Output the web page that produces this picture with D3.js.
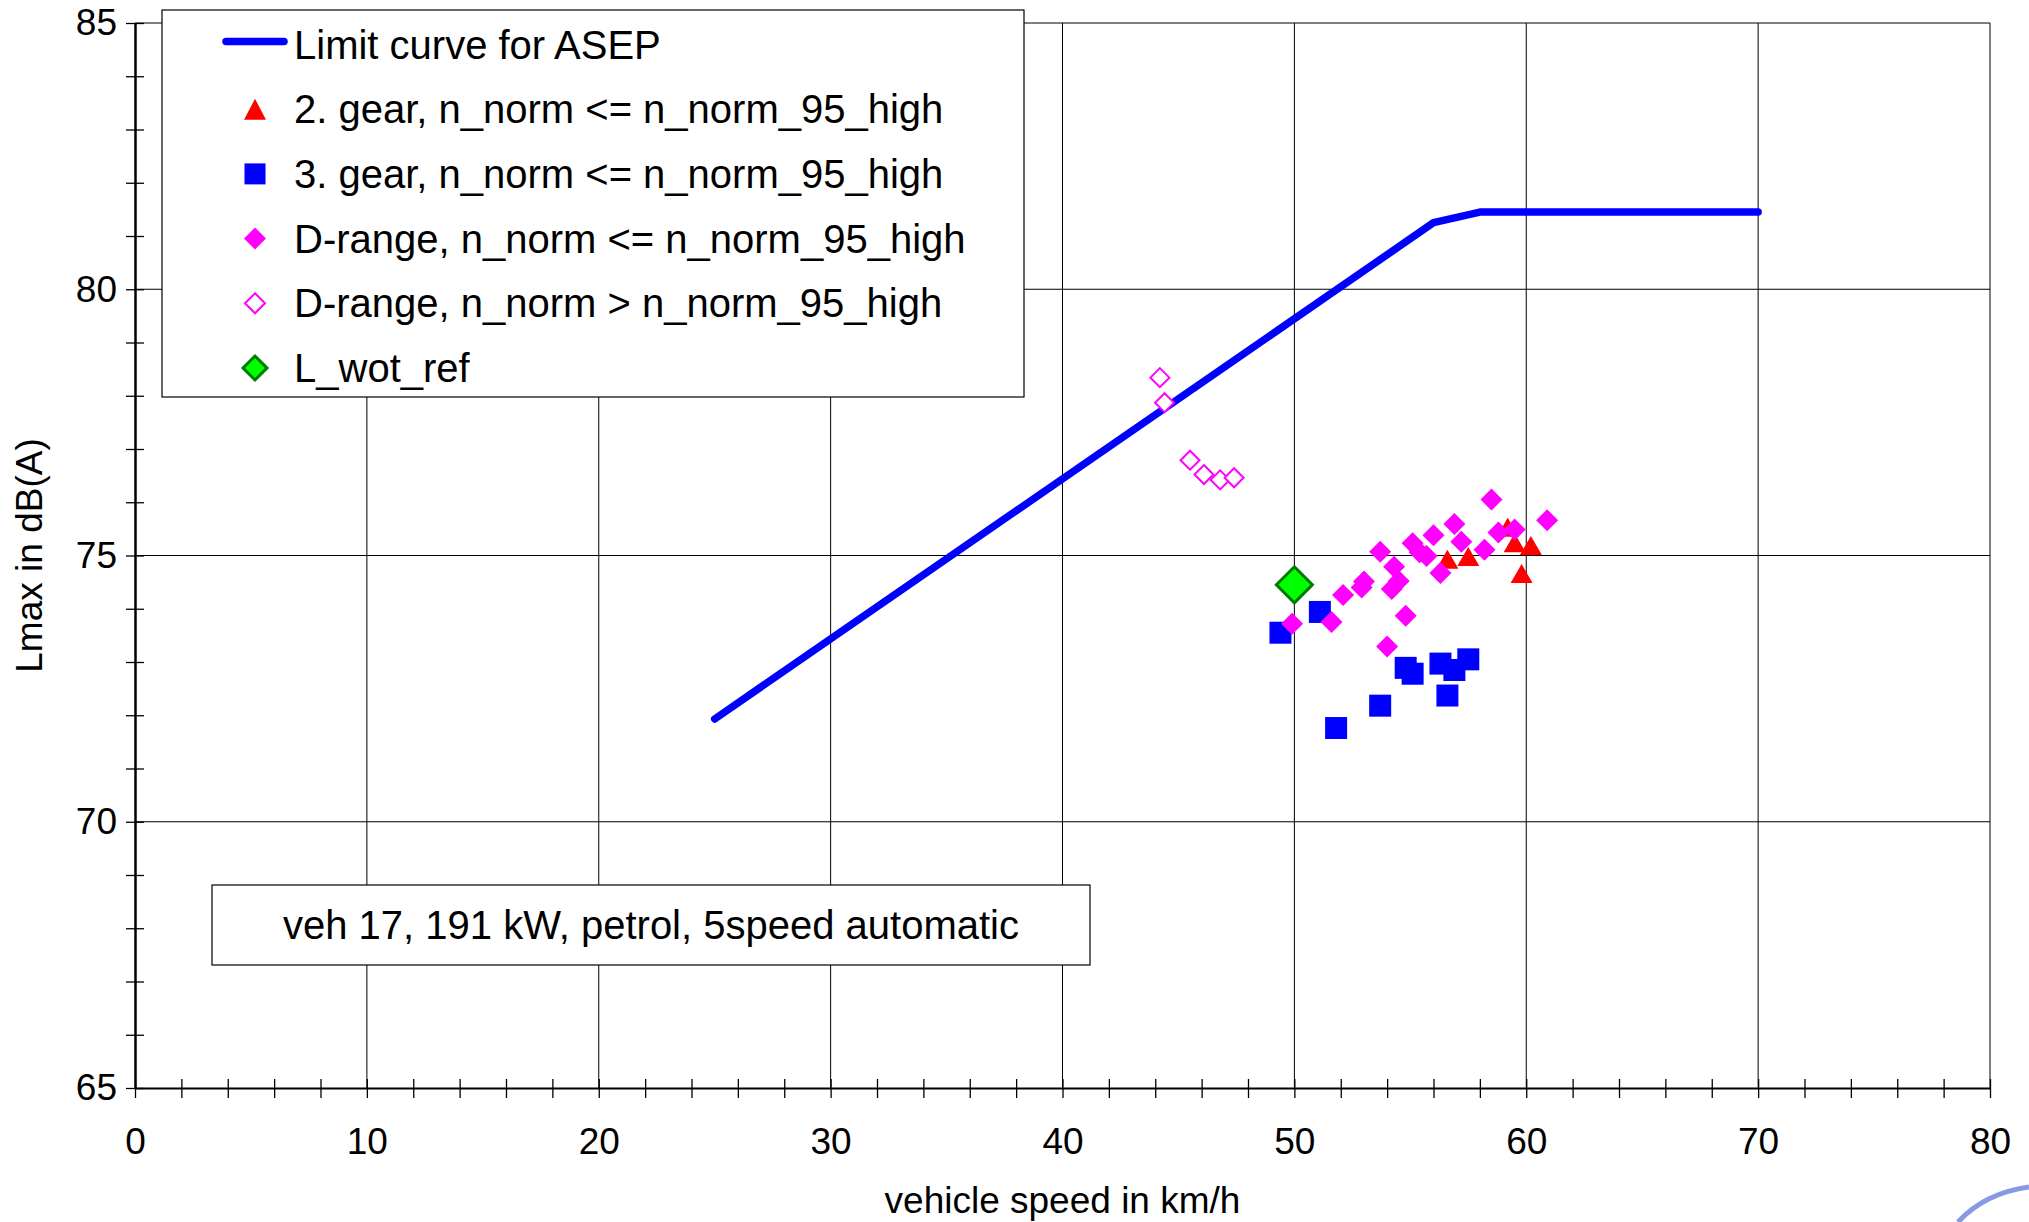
<!DOCTYPE html>
<html>
<head>
<meta charset="utf-8">
<script src="https://cdn.jsdelivr.net/npm/d3@7"></script>
<style>
    body { margin: 0; background: #fff; }
    svg { display: block; font-family: "Liberation Sans", Arial, sans-serif; }
</style>
</head>
<body>
<svg class="asepChart"></svg>
<script>
// limit curve
const limitSpeed = [25, 56, 58, 70];
const limitLevel = [71.93, 81.25, 81.45, 81.45];

// 2. gear, n_norm <= n_norm_95_high
const gear2Speed = [56.6, 57.5, 59.2, 59.5, 60.2, 59.8];
const gear2Level = [74.93, 74.98, 75.53, 75.24, 75.19, 74.66];

// 3. gear, n_norm <= n_norm_95_high
const gear3Speed = [49.4, 51.1, 51.8, 53.7, 54.8, 55.1, 56.3, 56.9, 57.5, 56.6];
const gear3Level = [73.55, 73.94, 71.76, 72.18, 72.89, 72.78, 72.97, 72.85, 73.05, 72.37];

// D-range, n_norm <= n_norm_95_high
const dRangeSpeed = [58.5, 60.9, 56.9, 56.0, 55.1, 57.2, 58.8, 59.5, 58.2, 53.7, 55.4, 55.7,
    54.3, 56.3, 54.5, 54.2, 53.0, 52.9, 52.1, 51.6, 49.9, 54.8, 54.0];
const dRangeLevel = [76.05, 75.66, 75.59, 75.38, 75.23, 75.26, 75.43, 75.49, 75.11, 75.07, 75.06, 74.99,
    74.79, 74.67, 74.52, 74.37, 74.51, 74.40, 74.26, 73.75, 73.72, 73.87, 73.29];

// D-range, n_norm > n_norm_95_high
const dOverSpeed = [44.2, 44.4, 45.5, 46.1, 46.8, 47.4];
const dOverLevel = [78.34, 77.87, 76.79, 76.52, 76.42, 76.46];

// L_wot_ref
const refSpeed = [50.0];
const refLevel = [74.45];

const xTicks = [0, 10, 20, 30, 40, 50, 60, 70, 80];
const yTicks = [65, 70, 75, 80, 85];

const legendLabels = [
    "Limit curve for ASEP",
    "2. gear, n_norm <= n_norm_95_high",
    "3. gear, n_norm <= n_norm_95_high",
    "D-range, n_norm <= n_norm_95_high",
    "D-range, n_norm > n_norm_95_high",
    "L_wot_ref"
];
const noteText = "veh 17, 191 kW, petrol, 5speed automatic";

function zip(xs, ys) {
    return xs.map((v, i) => ({speed: v, level: ys[i]}));
}

function diamondPath(r) {
    return `M0,${-r}L${r},0L0,${r}L${-r},0Z`;
}
function trianglePath(w, h) {
    return `M0,${-h/2}L${w/2},${h/2}L${-w/2},${h/2}Z`;
}
function squarePath(s) {
    return `M${-s/2},${-s/2}h${s}v${s}h${-s}Z`;
}

function drawChart() {
    const W = 2029, H = 1222;
    const left = 135, right = 1990, top = 23, bottom = 1088;

    const svg = d3.select(".asepChart")
        .attr("width", W)
        .attr("height", H);

    svg.append("rect").attr("width", W).attr("height", H).attr("fill", "#fff");

    const x = d3.scaleLinear().domain([0, 80]).range([left, right]);
    const y = d3.scaleLinear().domain([65, 85]).range([bottom, top]);

    // grid
    svg.append("g").selectAll("line")
        .data(xTicks.slice(1))
        .enter().append("line")
        .attr("x1", d => x(d)).attr("x2", d => x(d))
        .attr("y1", y(65)).attr("y2", y(85))
        .attr("stroke", "#000").attr("stroke-width", 1);
    svg.append("g").selectAll("line")
        .data(yTicks.slice(1))
        .enter().append("line")
        .attr("x1", x(0)).attr("x2", x(80))
        .attr("y1", d => y(d)).attr("y2", d => y(d))
        .attr("stroke", "#000").attr("stroke-width", 1);

    // x axis: minor ticks crossing the line
    const xMinor = svg.append("g")
        .attr("transform", `translate(0,${bottom})`)
        .call(d3.axisBottom(x).tickValues(d3.range(0, 81, 2)).tickFormat("").tickSize(10).tickSizeOuter(0));
    xMinor.selectAll(".tick line").attr("y1", -9).attr("stroke-width", 1.3);
    xMinor.select(".domain").attr("stroke-width", 2);

    const xLab = svg.append("g")
        .attr("transform", `translate(0,${bottom})`)
        .call(d3.axisBottom(x).tickValues(xTicks).tickSize(0).tickPadding(40));
    xLab.select(".domain").remove();
    xLab.selectAll(".tick text")
        .style("font-size", "37px")
        .style("font-family", "Liberation Sans, Arial, sans-serif")
        .attr("fill", "#000");

    // y axis
    const yMinor = svg.append("g")
        .attr("transform", `translate(${left},0)`)
        .call(d3.axisLeft(y).tickValues(d3.range(65, 86, 1)).tickFormat("").tickSize(9).tickSizeOuter(0));
    yMinor.selectAll(".tick line").attr("x2", 9).attr("x1", -9).attr("stroke-width", 1.3);
    yMinor.select(".domain").attr("stroke-width", 2.5);

    const yLab = svg.append("g")
        .attr("transform", `translate(${left},0)`)
        .call(d3.axisLeft(y).tickValues(yTicks).tickSize(0).tickPadding(18));
    yLab.select(".domain").remove();
    yLab.selectAll(".tick text")
        .style("font-size", "37px")
        .style("font-family", "Liberation Sans, Arial, sans-serif")
        .attr("fill", "#000");

    // axis titles
    svg.append("text")
        .attr("x", x(40))
        .attr("y", 1213)
        .attr("text-anchor", "middle")
        .style("font-size", "37px")
        .text("vehicle speed in km/h");

    svg.append("text")
        .attr("transform", `translate(42,${y(75)}) rotate(-90)`)
        .attr("text-anchor", "middle")
        .style("font-size", "37px")
        .text("Lmax in dB(A)");

    // note box
    svg.append("rect")
        .attr("x", 212).attr("y", 885)
        .attr("width", 878).attr("height", 80)
        .attr("fill", "#fff").attr("stroke", "#000").attr("stroke-width", 1.2);
    svg.append("text")
        .attr("x", 651).attr("y", 925)
        .attr("dy", "0.35em")
        .attr("text-anchor", "middle")
        .style("font-size", "40px")
        .text(noteText);

    // limit curve
    const line = d3.line().x(d => x(d.speed)).y(d => y(d.level));
    svg.append("path")
        .datum(zip(limitSpeed, limitLevel))
        .attr("d", line)
        .attr("fill", "none")
        .attr("stroke", "#0000ff")
        .attr("stroke-width", 7.5)
        .attr("stroke-linejoin", "round")
        .attr("stroke-linecap", "round");

    // markers
    svg.append("g").selectAll("path")
        .data(zip(gear2Speed, gear2Level))
        .enter().append("path")
        .attr("transform", d => `translate(${x(d.speed)},${y(d.level)})`)
        .attr("d", trianglePath(22, 19))
        .attr("fill", "#ff0000");

    svg.append("g").selectAll("path")
        .data(zip(gear3Speed, gear3Level))
        .enter().append("path")
        .attr("transform", d => `translate(${x(d.speed)},${y(d.level)})`)
        .attr("d", squarePath(22))
        .attr("fill", "#0000ff");

    svg.append("g").selectAll("path")
        .data(zip(dRangeSpeed, dRangeLevel))
        .enter().append("path")
        .attr("transform", d => `translate(${x(d.speed)},${y(d.level)})`)
        .attr("d", diamondPath(11))
        .attr("fill", "#ff00ff");

    svg.append("g").selectAll("path")
        .data(zip(dOverSpeed, dOverLevel))
        .enter().append("path")
        .attr("transform", d => `translate(${x(d.speed)},${y(d.level)})`)
        .attr("d", diamondPath(9.5))
        .attr("fill", "#fff")
        .attr("stroke", "#ff00ff")
        .attr("stroke-width", 2);

    svg.append("g").selectAll("path")
        .data(zip(refSpeed, refLevel))
        .enter().append("path")
        .attr("transform", d => `translate(${x(d.speed)},${y(d.level)})`)
        .attr("d", diamondPath(18))
        .attr("fill", "#00ff00")
        .attr("stroke", "#007a00")
        .attr("stroke-width", 3);

    // legend
    const lg = svg.append("g");
    lg.append("rect")
        .attr("x", 162).attr("y", 10)
        .attr("width", 862).attr("height", 387)
        .attr("fill", "#fff").attr("stroke", "#000").attr("stroke-width", 1.2);

    const rowY = i => 44.5 + i * 64.7;
    const symX = 255;
    lg.append("line")
        .attr("x1", 226).attr("x2", 284)
        .attr("y1", rowY(0) - 3).attr("y2", rowY(0) - 3)
        .attr("stroke", "#0000ff").attr("stroke-width", 7.5).attr("stroke-linecap", "round");
    lg.append("path").attr("transform", `translate(${symX},${rowY(1)})`)
        .attr("d", trianglePath(22, 21)).attr("fill", "#ff0000");
    lg.append("path").attr("transform", `translate(${symX},${rowY(2)})`)
        .attr("d", squarePath(21)).attr("fill", "#0000ff");
    lg.append("path").attr("transform", `translate(${symX},${rowY(3)})`)
        .attr("d", diamondPath(11)).attr("fill", "#ff00ff");
    lg.append("path").attr("transform", `translate(${symX},${rowY(4)})`)
        .attr("d", diamondPath(10)).attr("fill", "#fff").attr("stroke", "#ff00ff").attr("stroke-width", 2);
    lg.append("path").attr("transform", `translate(${symX},${rowY(5)})`)
        .attr("d", diamondPath(12)).attr("fill", "#00ff00").attr("stroke", "#007a00").attr("stroke-width", 3);

    lg.selectAll("text")
        .data(legendLabels)
        .enter().append("text")
        .attr("x", 294)
        .attr("y", (d, i) => rowY(i))
        .attr("dy", "0.35em")
        .style("font-size", "40px")
        .text(d => d);

    // logo fragment in the corner
    svg.append("path")
        .attr("d", "M1958,1222 Q1985,1193 2029,1187")
        .attr("fill", "none")
        .attr("stroke", "#5f77d9")
        .attr("stroke-opacity", 0.75)
        .attr("stroke-width", 5);
}

drawChart();
</script>
</body>
</html>
